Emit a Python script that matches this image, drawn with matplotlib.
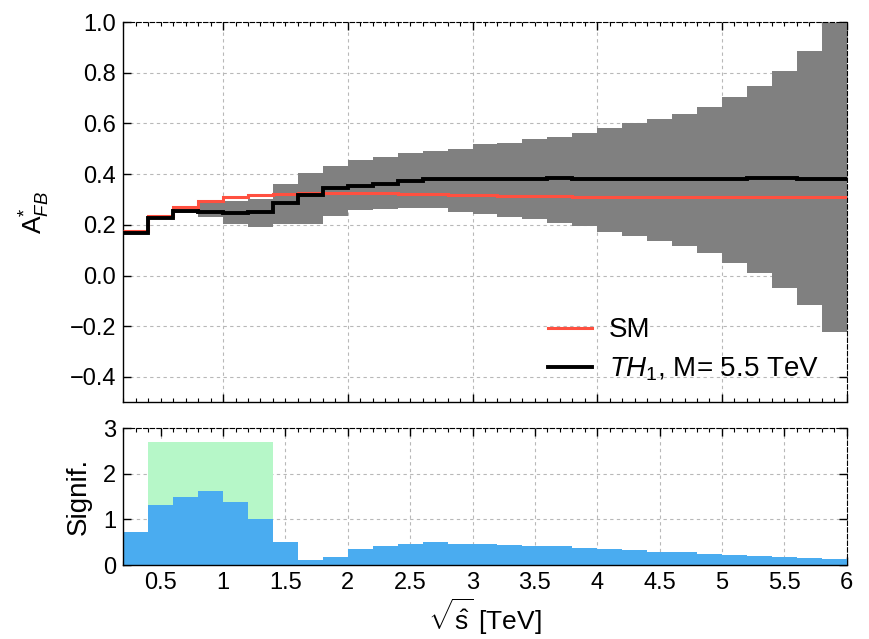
import matplotlib
matplotlib.use("Agg")
import matplotlib.pyplot as plt
from matplotlib.ticker import MultipleLocator

plt.rcParams['font.family'] = ['Liberation Sans', 'DejaVu Sans']
plt.rcParams['mathtext.fontset'] = 'custom'
plt.rcParams['mathtext.rm'] = 'Liberation Sans'
plt.rcParams['mathtext.it'] = 'Liberation Sans:italic'
plt.rcParams['mathtext.bf'] = 'Liberation Sans:bold'

# bin edges in sqrt(s) [TeV]
edges = [0.2, 0.4, 0.6, 0.8, 1.0, 1.2, 1.4, 1.6, 1.8, 2.0,
         2.2, 2.4, 2.6, 2.8, 3.0, 3.2, 3.4, 3.6, 3.8, 4.0,
         4.2, 4.4, 4.6, 4.8, 5.0, 5.2, 5.4, 5.6, 5.8, 6.0]

# A*_FB, Standard Model
sm = [0.177, 0.236, 0.272, 0.296, 0.308, 0.317, 0.322, 0.325, 0.325, 0.324,
      0.324, 0.320, 0.320, 0.319, 0.317, 0.315, 0.313, 0.312, 0.311, 0.310,
      0.309, 0.309, 0.309, 0.309, 0.309, 0.309, 0.309, 0.311, 0.309]

# A*_FB, TH1 with M = 5.5 TeV
th = [0.167, 0.228, 0.253, 0.252, 0.246, 0.250, 0.285, 0.318, 0.344, 0.352,
      0.361, 0.374, 0.379, 0.380, 0.380, 0.380, 0.380, 0.385, 0.380, 0.379,
      0.379, 0.380, 0.380, 0.380, 0.380, 0.384, 0.384, 0.381, 0.381]

# uncertainty band around TH1
band_hi = [0.170, 0.232, 0.258, 0.285, 0.295, 0.302, 0.361, 0.404, 0.433, 0.454,
           0.468, 0.485, 0.491, 0.498, 0.518, 0.524, 0.537, 0.548, 0.561, 0.583,
           0.600, 0.618, 0.639, 0.665, 0.705, 0.749, 0.808, 0.886, 0.995]
band_lo = [0.164, 0.224, 0.248, 0.231, 0.204, 0.191, 0.204, 0.204, 0.233, 0.257,
           0.263, 0.265, 0.265, 0.252, 0.243, 0.230, 0.224, 0.208, 0.194, 0.172,
           0.158, 0.136, 0.115, 0.089, 0.050, 0.011, -0.048, -0.116, -0.221]

# significance per bin
signif = [0.715, 1.307, 1.48, 1.63, 1.38, 1.01, 0.50, 0.10, 0.175, 0.35,
          0.42, 0.47, 0.50, 0.47, 0.47, 0.44, 0.415, 0.415, 0.372, 0.343,
          0.32, 0.29, 0.29, 0.24, 0.22, 0.197, 0.175, 0.153, 0.124]

# highlighted combined region
green_x = [0.4, 1.4]
green_top = 2.7

fs = 17
fig = plt.figure(figsize=(8.7, 6.39), dpi=100)
ax1 = fig.add_axes([0.1417, 0.3704, 0.8315, 0.5951])
ax2 = fig.add_axes([0.1417, 0.1158, 0.8315, 0.2144])

# top panel
ax1.stairs(band_hi, edges, baseline=band_lo, fill=True, color='#808080', lw=0, zorder=2)
ax1.stairs(sm, edges, color='#ff5040', lw=2.2, baseline=None, zorder=3, label='SM')
ax1.stairs(th, edges, color='black', lw=2.8, baseline=None, zorder=4,
           label=r'$TH_1$, M= 5.5 TeV')
ax1.set_xlim(0.2, 6)
ax1.set_ylim(-0.5, 1.0)
ax1.set_yticks([-0.4, -0.2, 0.0, 0.2, 0.4, 0.6, 0.8, 1.0])
ax1.set_yticklabels(['\u22120.4', '\u22120.2', '0.0', '0.2', '0.4', '0.6', '0.8', '1.0'])
ax1.set_ylabel(r'A$^{*}_{FB}$', fontsize=19)
ax1.yaxis.set_label_coords(-0.098, 0.5)
ax1.tick_params(labelbottom=False)
leg = ax1.legend(loc='lower left', bbox_to_anchor=(0.587, 0.05), frameon=False,
                 fontsize=20, handlelength=1.6, handletextpad=0.6,
                 labelspacing=0.45, borderpad=0, borderaxespad=0)

# bottom panel
ax2.fill_between(green_x, 0, green_top, color='#b6f7c8', lw=0, zorder=1)
ax2.stairs(signif, edges, baseline=0, fill=True, color='#4aacf0', lw=0, zorder=2)
ax2.set_xlim(0.2, 6)
ax2.set_ylim(0, 3)
ax2.set_yticks([0, 1, 2, 3])
ax2.set_ylabel('Signif.', fontsize=20)
ax2.yaxis.set_label_coords(-0.044, 0.5)
ax2.set_xlabel(r'$\sqrt{\hat{\mathrm{s}}}$ [TeV]', fontsize=19, labelpad=2)
ax2.set_xticks([0.5, 1, 1.5, 2, 2.5, 3, 3.5, 4, 4.5, 5, 5.5, 6])
ax2.set_xticklabels(['0.5', '1', '1.5', '2', '2.5', '3', '3.5', '4', '4.5', '5', '5.5', '6'])

for ax in (ax1, ax2):
    ax.xaxis.set_minor_locator(MultipleLocator(0.1))
    ax.grid(True, which='major', color='#b8b8b8', ls=(0, (3, 3)), lw=0.8, zorder=0)
    ax.set_axisbelow(True)
    ax.tick_params(which='both', direction='in', top=True, right=True,
                   labelsize=fs, pad=5)
    ax.tick_params(which='major', length=6, width=1)
    ax.tick_params(which='minor', length=3, width=0.8)
    ax.tick_params(axis='y', which='minor', left=False, right=False)
    for s in ('left', 'bottom'):
        ax.spines[s].set_linewidth(1.0)
    for s in ('top', 'right'):
        ax.spines[s].set_linewidth(0.8)
        ax.spines[s].set_linestyle((0, (4, 2)))

fig.savefig('out.png', dpi=100)
